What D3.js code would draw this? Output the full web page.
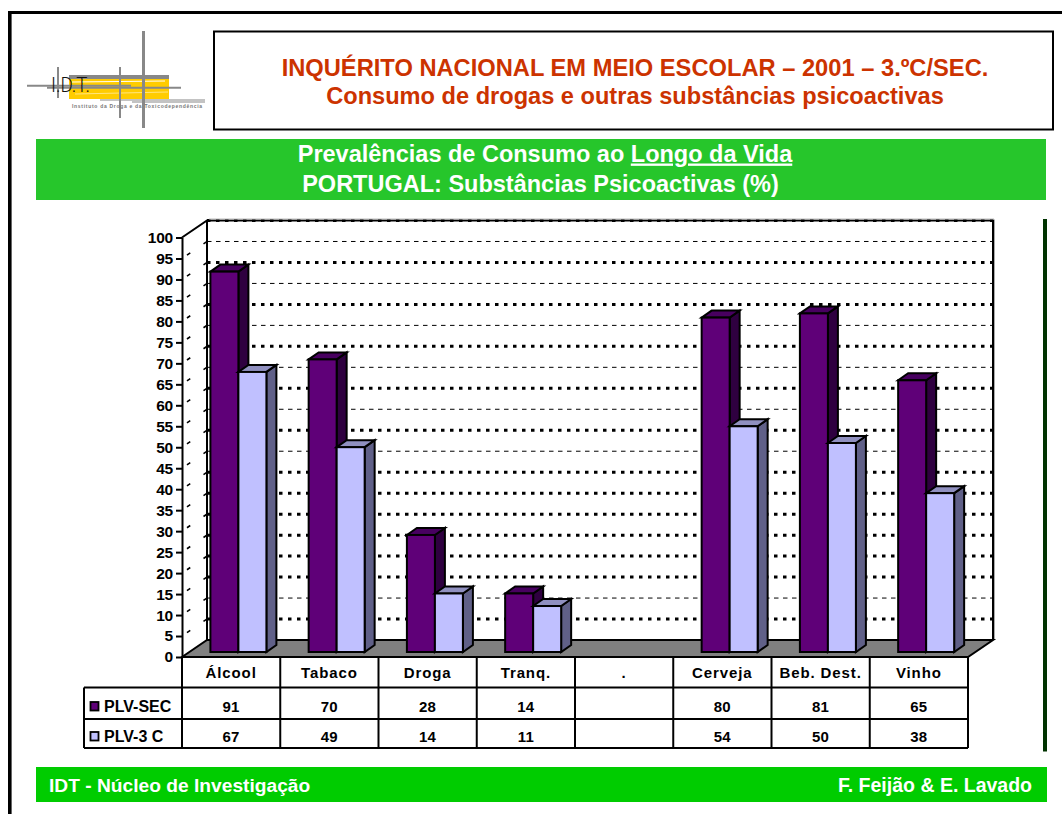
<!DOCTYPE html>
<html><head><meta charset="utf-8">
<script src="https://cdn.jsdelivr.net/npm/d3@7"></script>
<style>html,body{margin:0;padding:0;background:#fff;overflow:hidden}svg{display:block}text{font-family:"Liberation Sans",Arial,sans-serif}</style>
</head><body><svg id="c" width="1062" height="814"></svg>
<script>
const categories = ["Álcool","Tabaco","Droga","Tranq.",".","Cerveja","Beb. Dest.","Vinho"];
const seriesNames = ["PLV-SEC","PLV-3 C"];
const plvSec = [91,70,28,14,null,80,81,65];
const plv3c  = [67,49,14,11,null,54,50,38];
const yTicks = d3.range(0,101,5);
const thinGridTicks = [95,85,75,65,55,45,10];
const titleLines = ["INQUÉRITO NACIONAL EM MEIO ESCOLAR – 2001 – 3.ºC/SEC.","Consumo de drogas e outras substâncias psicoactivas"];
const footerLeft = "IDT - Núcleo de Investigação";
const footerRight = "F. Feijão & E. Lavado";

const svg = d3.select("#c");
const rect=(x,y,w,h,fill,stroke,sw,p=svg)=>p.append("rect").attr("x",x).attr("y",y).attr("width",w).attr("height",h).attr("fill",fill).attr("stroke",stroke||"none").attr("stroke-width",sw||0);
const line=(x1,y1,x2,y2,c,w,p=svg)=>p.append("line").attr("x1",x1).attr("y1",y1).attr("x2",x2).attr("y2",y2).attr("stroke",c).attr("stroke-width",w);
const text=(x,y,s,size,fill,anchor,p=svg)=>p.append("text").attr("x",x).attr("y",y).text(s).attr("font-size",size).attr("font-weight","bold").attr("fill",fill).attr("text-anchor",anchor||"middle");

// page frame
line(10,12.5,1062,12.5,"#000",3); line(9.8,11,9.8,814,"#000",3.6);

// logo
rect(69,79,100,20,"#FFCC00");
line(72,82,165,81,"#fff",1); line(75,94,168,92,"#ffe680",1);
rect(69,75,100,4,"#888");
[[27,85.7,131,85.7,2],[47,87.7,181,87.7,2],[100,100,205,100,1.2],[132,102,205,102,1.2],[143.5,31,143.5,128,3],[120,67,120,118,2],[58,67,58,98,2]]
 .forEach(a=>line(a[0],a[1],a[2],a[3],"#888",a[4]));
svg.append("text").attr("x",51).attr("y",92).text("I.D.T.").attr("font-size",20).attr("fill","#111").attr("font-weight",300).style("font-family","Roboto").attr("textLength",39).attr("lengthAdjust","spacingAndGlyphs");
svg.append("text").attr("x",72).attr("y",108).text("Instituto da Droga e da Toxicodependência").attr("font-size",5).attr("font-weight","bold").attr("fill","#777").attr("textLength",130);

// title box
rect(214,31.5,839,98,"#fff","#000",2);
text(635,76,titleLines[0],23.7,"#CC3300");
text(635,104,titleLines[1],23.6,"#CC3300");

// subtitle band
rect(36,139,1010,61,"#26C62B");
const sub=text(545,161.5,"",23.5,"#fff");
sub.append("tspan").text("Prevalências de Consumo ao ");
sub.append("tspan").text("Longo da Vida").attr("text-decoration","underline");
text(540.5,191.5,"PORTUGAL: Substâncias Psicoactivas (%)",23.5,"#fff");

// footer & right rule
rect(1043,219,4,532.5,"#003300");
rect(36,767,1011,35,"#00CC00");
text(49,792,footerLeft,19.2,"#fff","start");
text(1032,792,footerRight,19.5,"#fff","end");

// scales
const x = d3.scaleBand().domain(categories).range([182,968]);
const y = d3.scaleLinear().domain([0,100]).range([657,237.5]);
const depthX = 25, depthY = -17;
const yBar = d3.scaleLinear().domain([0,100]).range([652,234]);
const xSeries = d3.scaleBand().domain(seriesNames).range([28.4,84.4]);
const barDX = 10, barDY = -7;
const heavy = t=>!thinGridTicks.includes(t);

// back wall
const g = svg.append("g");
rect(182+depthX,y(100)+depthY,786,y(0)-y(100),"#fff",null,0,g);
// gridlines
g.selectAll(".grid").data(yTicks.filter(t=>t>0)).join("line").attr("class","grid")
  .attr("x1",182+depthX).attr("x2",968+depthX)
  .attr("y1",d=>y(d)+depthY).attr("y2",d=>y(d)+depthY)
  .attr("stroke","#000")
  .attr("stroke-width",d=>heavy(d)?3:1)
  .attr("stroke-dasharray",d=>heavy(d)?"3.5,5.5":"4.5,4.5");
// side wall guide lines
g.selectAll(".side").data(yTicks.filter(t=>t>0&&t<100)).join("line").attr("class","side")
  .attr("x1",182).attr("x2",182+depthX)
  .attr("y1",d=>y(d)).attr("y2",d=>y(d)+depthY)
  .attr("stroke","#000")
  .attr("stroke-width",1.6)
  .attr("stroke-dasharray","0,6,4,16,4,10");
// wall outline
const wallPts=[[182,y(100)],[182+depthX,y(100)+depthY],[968+depthX,y(100)+depthY],[968+depthX,y(0)+depthY]];
g.append("path").attr("d",d3.line()(wallPts)).attr("fill","none").attr("stroke","#000").attr("stroke-width",2);
line(182+depthX+2,y(100)+depthY-1.5,968+depthX+1,y(100)+depthY-1.5,"#bbb",1,g);
line(968+depthX+1.5,y(100)+depthY-1,968+depthX+1.5,y(0)+depthY,"#aaa",1,g);
line(182+depthX,y(100)+depthY,182+depthX,y(0)+depthY,"#000",2,g);
// floor
g.append("path").attr("d",d3.line()([[182,y(0)],[182+depthX,y(0)+depthY],[968+depthX,y(0)+depthY],[968,y(0)]])+"Z")
  .attr("fill","#808080").attr("stroke","#000").attr("stroke-width",2);

// bars
const palette = {"PLV-SEC":{front:"#5F0078",top:"#480060",side:"#2F0040"},"PLV-3 C":{front:"#C0C0FF",top:"#9090C0",side:"#606088"}};
const series = [{name:seriesNames[0],values:plvSec},{name:seriesNames[1],values:plv3c}];
const bars = series.flatMap(s=>s.values.map((v,i)=>({s:s.name,cat:categories[i],v}))).filter(d=>d.v!=null);
const barG = svg.append("g").selectAll("g").data(bars).join("g")
  .attr("stroke","#000").attr("stroke-width",2).attr("stroke-linejoin","miter");
const bx=d=>x(d.cat)+xSeries(d.s), bw=xSeries.bandwidth();
barG.append("path").attr("fill",d=>palette[d.s].side)
  .attr("d",d=>d3.line()([[bx(d)+bw,yBar(d.v)],[bx(d)+bw+barDX,yBar(d.v)+barDY],[bx(d)+bw+barDX,yBar(0)+barDY],[bx(d)+bw,yBar(0)]])+"Z");
barG.append("path").attr("fill",d=>palette[d.s].top)
  .attr("d",d=>d3.line()([[bx(d),yBar(d.v)],[bx(d)+barDX,yBar(d.v)+barDY],[bx(d)+bw+barDX,yBar(d.v)+barDY],[bx(d)+bw,yBar(d.v)]])+"Z");
barG.append("rect").attr("fill",d=>palette[d.s].front)
  .attr("x",bx).attr("width",bw).attr("y",d=>yBar(d.v)).attr("height",d=>yBar(0)-yBar(d.v));

// y axis
const axis = svg.append("g").attr("transform","translate(182,0)")
  .call(d3.axisLeft(y).tickValues(yTicks).tickSize(6).tickPadding(3).tickSizeOuter(0));
axis.selectAll("path,line").attr("stroke","#000").attr("stroke-width",2);
axis.selectAll("text").attr("font-size",15.5).attr("font-weight","bold").attr("fill","#000").attr("font-family","Liberation Sans").attr("letter-spacing",-0.2);

// data table
const rowY=[657,687.5,719,748], tableLeft=84;
const tg=svg.append("g");
rowY.forEach((r,i)=>line(i==0?182:tableLeft,r,968,r,"#000",2,tg));
line(tableLeft,687.5,tableLeft,748,"#000",2,tg);
tg.selectAll(".v").data([...categories.map(c=>x(c)),968]).join("line").attr("class","v")
  .attr("x1",d=>d).attr("x2",d=>d).attr("y1",657).attr("y2",748).attr("stroke","#000").attr("stroke-width",2);
tg.selectAll(".hdr").data(categories).join("text").attr("class","hdr")
  .attr("x",d=>x(d)+x.bandwidth()/2).attr("y",678).attr("text-anchor","middle")
  .attr("font-size",15).attr("letter-spacing",0.9).attr("font-weight","bold").attr("fill","#000").text(d=>d);
series.forEach((s,ri)=>{
  const base=[711.5,741.5][ri];
  rect(90.5,base-9.5,8,8.5,palette[s.name].front,"#000",1.8,tg);
  text(104,base,s.name,16,"#000","start",tg);
  tg.selectAll(".r"+ri).data(s.values).join("text").attr("class","r"+ri)
    .attr("x",(d,i)=>x(categories[i])+x.bandwidth()/2).attr("y",base).attr("text-anchor","middle")
    .attr("font-size",15).attr("letter-spacing",0.3).attr("font-weight","bold").attr("fill","#000").text(d=>d==null?"":d);
});
</script></body></html>
